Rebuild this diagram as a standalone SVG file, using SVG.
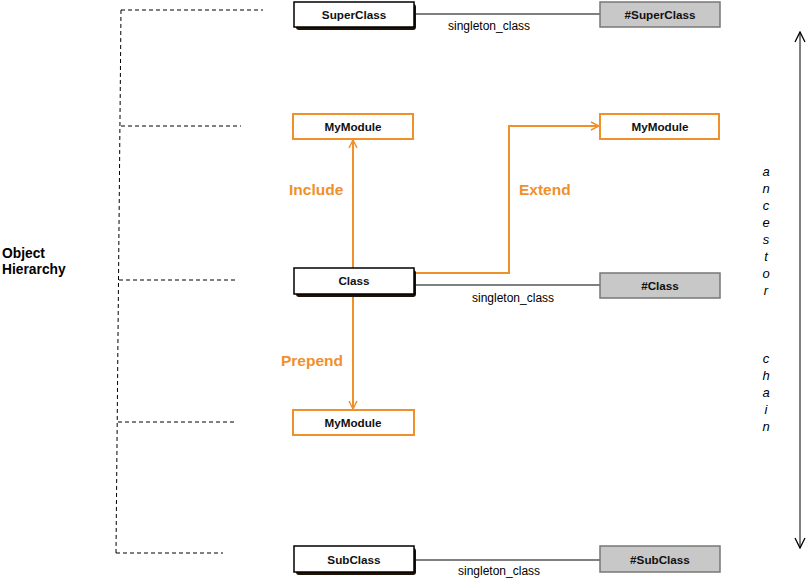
<svg xmlns="http://www.w3.org/2000/svg" width="811" height="581" viewBox="0 0 811 581">
<style>
.box{fill:#fff;stroke:#000;stroke-width:1.5}
.shadow{fill:#1e1206}
.mod{fill:#fff;stroke:#f0902a;stroke-width:2}
.sing{fill:#c8c8c8;stroke:#777;stroke-width:1.5}
.t{font-family:"Liberation Sans",Arial,sans-serif;font-size:11.7px;font-weight:bold;fill:#111;text-anchor:middle}
.lbl{font-family:"Liberation Sans",Arial,sans-serif;font-size:12px;fill:#000}
.oh{font-family:"Liberation Sans",Arial,sans-serif;font-size:13.8px;font-weight:bold;fill:#000}
.ol{font-family:"Liberation Sans",Arial,sans-serif;font-size:15.5px;font-weight:bold;fill:#f0902a}
.ch{font-family:"Liberation Sans",Arial,sans-serif;font-size:13px;font-style:italic;fill:#000;text-anchor:middle}
.dash{stroke:#000;stroke-width:1;stroke-dasharray:4,3;fill:none}
.line{stroke:#000;stroke-width:1;fill:none}
.oline{stroke:#f0902a;stroke-width:2;fill:none}
</style>
<defs>
<marker id="oa" viewBox="0 0 10 10" refX="9" refY="5" markerWidth="10" markerHeight="10" markerUnits="userSpaceOnUse" orient="auto">
<path d="M1,1 L9,5 L1,9" fill="none" stroke="#f0902a" stroke-width="1.5"/>
</marker>
<marker id="ba" viewBox="0 0 12 12" refX="11" refY="6" markerWidth="12" markerHeight="12" markerUnits="userSpaceOnUse" orient="auto-start-reverse">
<path d="M1,1 L11,6 L1,11" fill="none" stroke="#000" stroke-width="1.3"/>
</marker>
</defs>
<g id="hierarchy">
<path class="dash" d="M121,10 L116,553"/>
<path class="dash" d="M121,10 H263"/>
<path class="dash" d="M121,126 H241"/>
<path class="dash" d="M119,280 H236"/>
<path class="dash" d="M118,422 H235"/>
<path class="dash" d="M116,553 H223"/>
<text class="oh" x="2" y="258">Object</text>
<text class="oh" x="2" y="274">Hierarchy</text>
</g>
<g id="ancestor">
<path class="line" d="M800,32 V548" marker-start="url(#ba)" marker-end="url(#ba)"/>
<text class="ch" x="766" y="176">a</text>
<text class="ch" x="766" y="193">n</text>
<text class="ch" x="766" y="210">c</text>
<text class="ch" x="766" y="227">e</text>
<text class="ch" x="766" y="244">s</text>
<text class="ch" x="766" y="261">t</text>
<text class="ch" x="766" y="278">o</text>
<text class="ch" x="766" y="295">r</text>
<text class="ch" x="766" y="363">c</text>
<text class="ch" x="766" y="380">h</text>
<text class="ch" x="766" y="397">a</text>
<text class="ch" x="766" y="414">i</text>
<text class="ch" x="766" y="431">n</text>
</g>
<g id="connectors">
<path class="line" d="M414,14 H600"/>
<text class="lbl" x="448" y="30">singleton_class</text>
<path class="line" d="M414,285 H600"/>
<text class="lbl" x="472" y="302">singleton_class</text>
<path class="line" d="M414,560 H600"/>
<text class="lbl" x="458" y="575">singleton_class</text>
<path class="oline" d="M353,268 V140" marker-end="url(#oa)"/>
<text class="ol" x="289" y="195">Include</text>
<path class="oline" d="M414,273 H509 V126 H599" marker-end="url(#oa)"/>
<text class="ol" x="519" y="195">Extend</text>
<path class="oline" d="M353,294 V409" marker-end="url(#oa)"/>
<text class="ol" x="281" y="366">Prepend</text>
</g>
<g id="superclass">
<rect class="shadow" x="296" y="4" width="120" height="26" rx="3"/>
<rect class="box" x="294" y="2" width="120" height="25"/>
<text class="t" x="354" y="19">SuperClass</text>
</g>
<g id="superclass-singleton">
<rect class="sing" x="600" y="2" width="120" height="25"/>
<text class="t" x="660" y="19">#SuperClass</text>
</g>
<g id="mymodule-include">
<rect class="mod" x="293" y="114" width="120" height="25"/>
<text class="t" x="353" y="131">MyModule</text>
</g>
<g id="mymodule-extend">
<rect class="mod" x="600" y="114" width="119" height="25"/>
<text class="t" x="660" y="131">MyModule</text>
</g>
<g id="class">
<rect class="shadow" x="296" y="270" width="120" height="27" rx="3"/>
<rect class="box" x="294" y="268" width="120" height="26"/>
<text class="t" x="354" y="285">Class</text>
</g>
<g id="class-singleton">
<rect class="sing" x="600" y="273" width="120" height="25"/>
<text class="t" x="660" y="290">#Class</text>
</g>
<g id="mymodule-prepend">
<rect class="mod" x="293" y="410" width="121" height="25"/>
<text class="t" x="353" y="427">MyModule</text>
</g>
<g id="subclass">
<rect class="shadow" x="296" y="548" width="120" height="27" rx="3"/>
<rect class="box" x="294" y="546" width="120" height="26"/>
<text class="t" x="354" y="564">SubClass</text>
</g>
<g id="subclass-singleton">
<rect class="sing" x="600" y="546" width="120" height="26"/>
<text class="t" x="660" y="564">#SubClass</text>
</g>
</svg>
